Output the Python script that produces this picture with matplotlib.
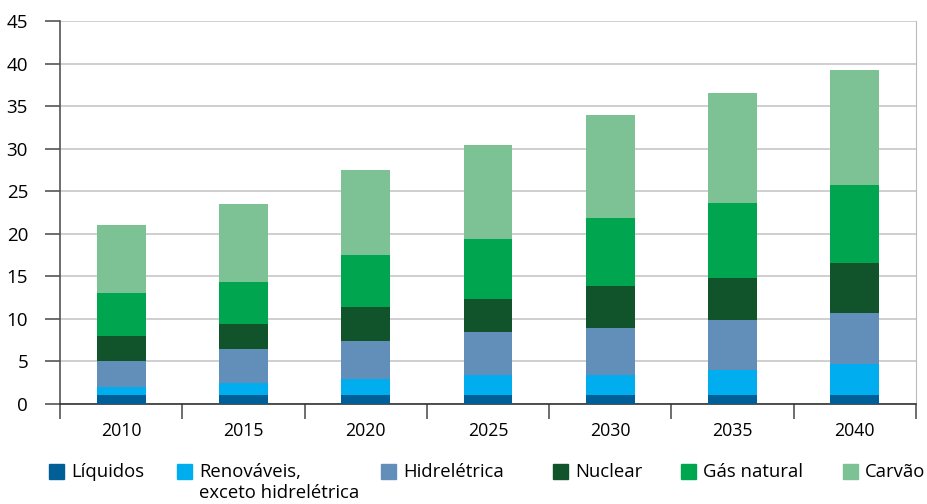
import matplotlib.pyplot as plt
from matplotlib.patches import Rectangle

plt.rcParams['font.family'] = ['Open Sans', 'DejaVu Sans']

anos = ["2010", "2015", "2020", "2025", "2030", "2035", "2040"]
liquidos = [1.0, 1.0, 1.0, 1.0, 1.0, 1.0, 1.0]
renovaveis = [1.0, 1.45, 1.95, 2.4, 2.45, 2.95, 3.65]
hidreletrica = [3.0, 4.05, 4.5, 5.05, 5.5, 5.9, 6.0]
nuclear = [3.0, 2.95, 4.0, 3.9, 4.9, 4.95, 5.9]
gas_natural = [5.0, 4.9, 6.0, 7.05, 8.0, 8.8, 9.15]
carvao = [8.0, 9.1, 10.1, 11.05, 12.1, 12.9, 13.6]

series = [liquidos, renovaveis, hidreletrica, nuclear, gas_natural, carvao]
nomes = ["Líquidos", "Renováveis,\nexceto hidrelétrica", "Hidrelétrica",
         "Nuclear", "Gás natural", "Carvão"]
cores = ["#005f96", "#00aeef", "#618fba", "#11532b", "#00a550", "#7dc295"]

fig = plt.figure(figsize=(9.27, 5.04), dpi=100)
ax = fig.add_axes([60 / 927, 100 / 504, 856 / 927, 383 / 504])

x = range(len(anos))
base = [0.0] * len(anos)
for valores, cor in zip(series, cores):
    ax.bar(x, valores, bottom=base, width=0.4, color=cor, zorder=3)
    base = [b + v for b, v in zip(base, valores)]

ax.set_xlim(-0.5, len(anos) - 0.5)
ax.set_ylim(0, 45)
ax.set_yticks(range(0, 50, 5))
ax.set_xticks(list(x))
ax.set_xticklabels(anos)
ax.set_xticks([i - 0.5 for i in range(len(anos) + 1)], minor=True)
ax.tick_params(axis='x', which='major', length=0, pad=13, labelsize=12.8)
ax.tick_params(axis='x', which='minor', length=11, width=1.2, color='#555555')
ax.tick_params(axis='y', length=11, width=1.2, color='#555555', pad=12, labelsize=13.5)

ax.grid(axis='y', color='#cccccc', linewidth=1.3, zorder=0)
ax.spines['top'].set_visible(False)
ax.spines['right'].set_color('#bbbbbb')
ax.spines['left'].set_color('#555555')
ax.spines['left'].set_linewidth(1.2)
ax.spines['bottom'].set_color('#333333')
ax.spines['bottom'].set_linewidth(1.2)

# legenda manual abaixo do eixo
pos_quadrado = [49, 177, 381, 553, 681, 843]
for px, nome, cor in zip(pos_quadrado, nomes, cores):
    fig.add_artist(Rectangle((px / 927, 25 / 504), 15 / 927, 15 / 504,
                             transform=fig.transFigure, color=cor))
    fig.text((px + 22) / 927, 41 / 504, nome, fontsize=13.3, va='top',
             ha='left', linespacing=1.2)

fig.savefig("out.png", dpi=100)
